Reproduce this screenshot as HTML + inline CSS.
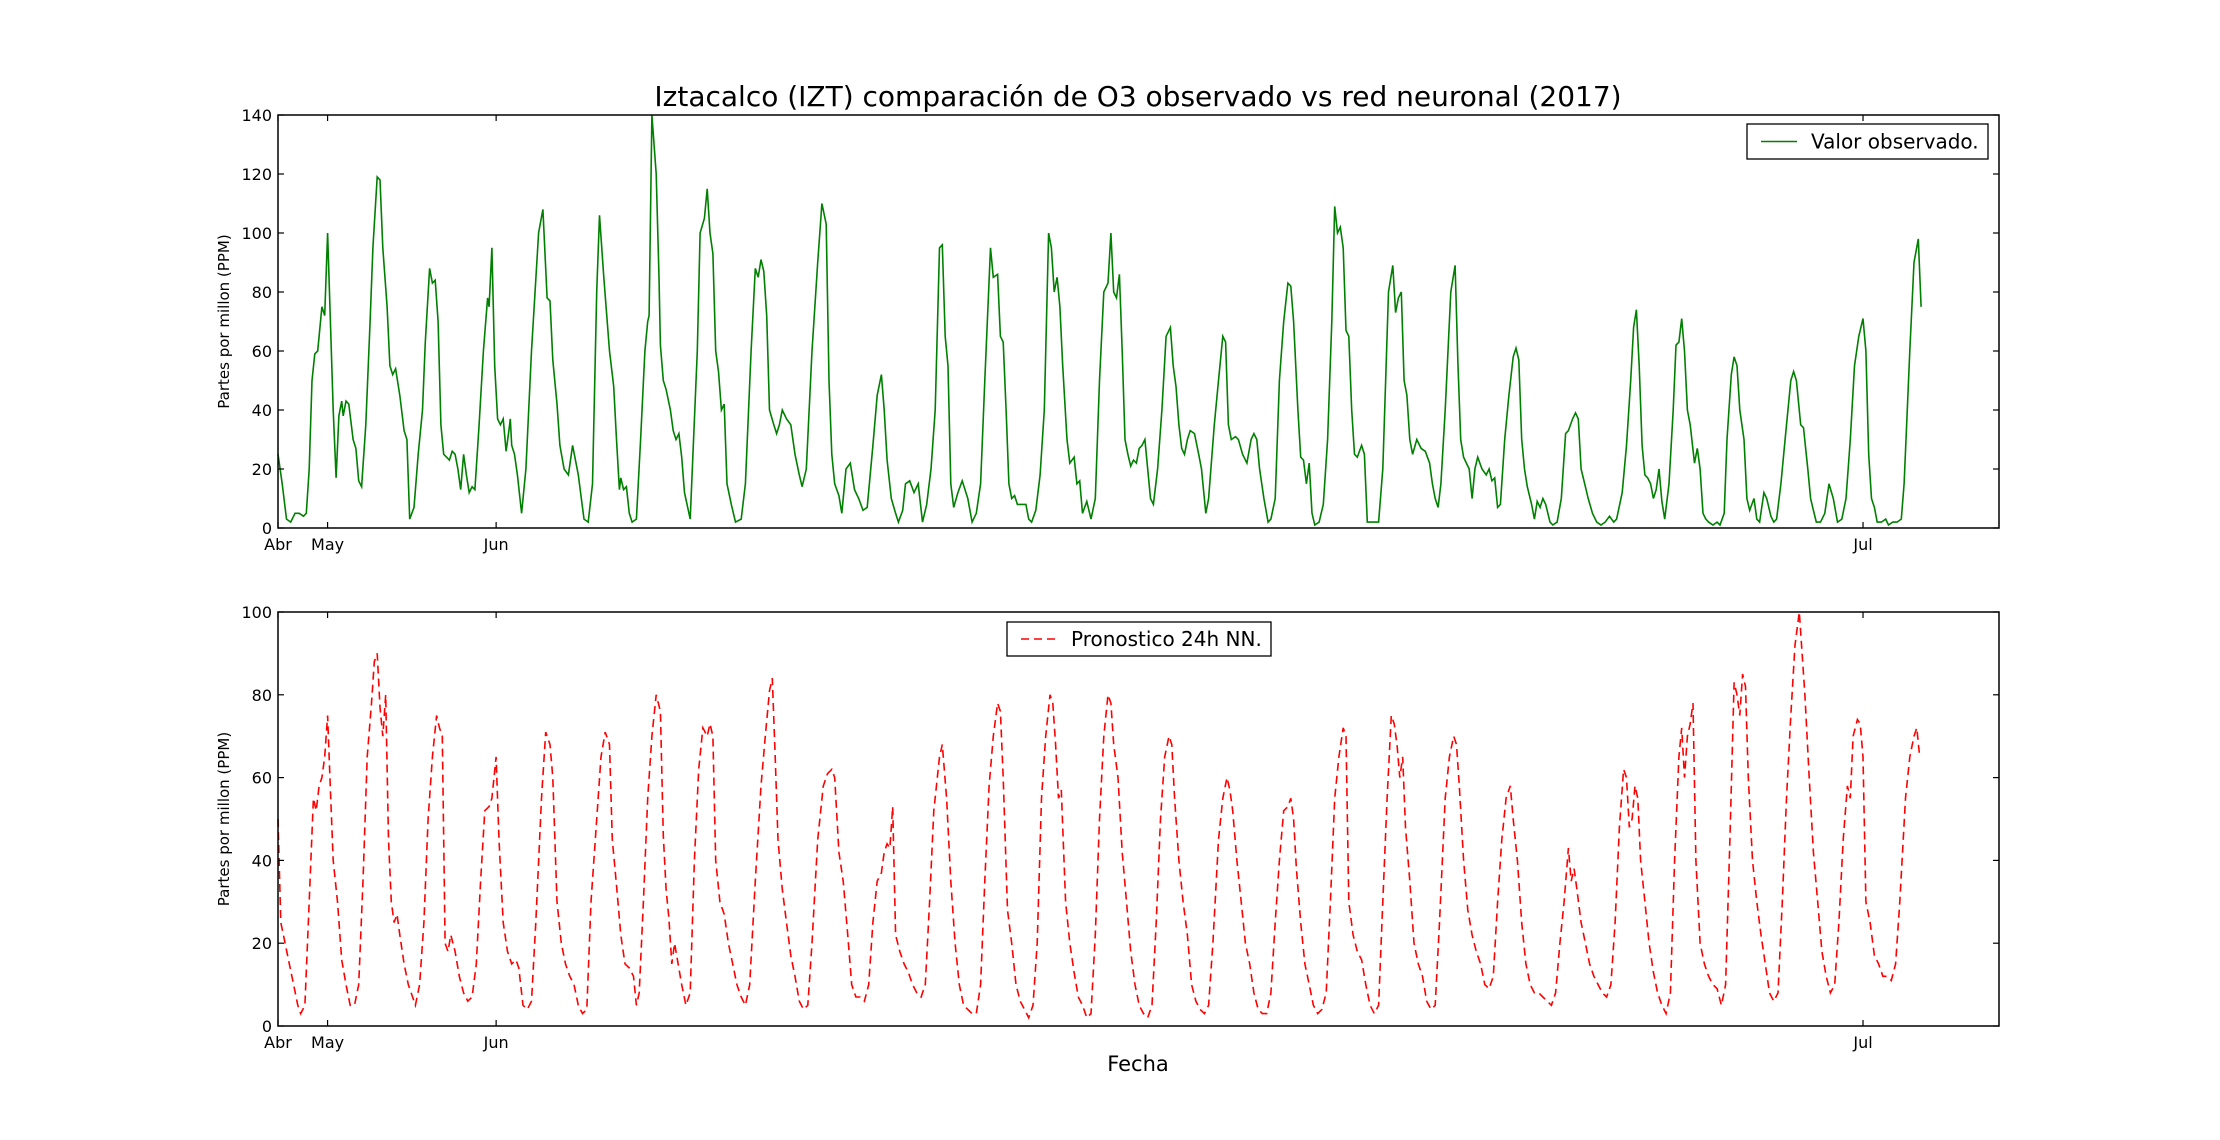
<!DOCTYPE html>
<html><head><meta charset="utf-8"><style>
body{margin:0;background:#fff;}
svg{display:block;font-family:"DejaVu Sans","Liberation Sans",sans-serif;}
</style></head><body>
<svg id="chart" width="2220" height="1140" viewBox="0 0 2220 1140" xmlns="http://www.w3.org/2000/svg">
<rect width="2220" height="1140" fill="#fff"/>
<text x="1138" y="106" font-size="28" text-anchor="middle">Iztacalco (IZT) comparación de O3 observado vs red neuronal (2017)</text>
<text x="1138" y="1071" font-size="21" text-anchor="middle">Fecha</text>
<g id="g1"></g>
<g id="g2"></g>
</svg>
<script>
// x positions are sample indices (domain 196..1411)
const obsT=[196,199,202,205,208,211,214,216,218,220,222,224,227,229,231,233,235,237,239,241,242,244,246,249,251,253,255,258,261,263,266,268,270,273,275,277,279,282,285,287,289,292,295,298,300,303,305,307,309,311,313,315,317,319,321,323,325,327,329,331,333,335,338,341,344,345,347,349,351,353,355,357,359,360,361,363,365,368,371,375,380,383,386,388,390,393,395,398,401,404,408,412,415,418,421,423,426,430,433,435,437,438,440,442,444,446,449,452,455,457,458,460,463,465,466,468,470,473,475,477,479,481,483,487,492,494,497,499,501,503,505,507,509,511,513,516,519,523,526,530,533,535,537,539,541,543,546,548,550,552,555,558,561,564,566,569,573,577,580,583,585,587,589,592,594,597,600,603,606,609,612,616,619,622,624,626,629,632,634,637,639,642,645,648,651,654,657,660,663,665,667,669,671,673,676,679,683,686,689,692,695,699,701,704,706,708,710,712,714,716,718,721,724,726,728,731,734,737,740,742,744,746,748,750,753,755,758,760,762,764,767,770,773,776,779,782,784,786,788,790,792,794,796,798,800,802,804,806,808,810,812,814,817,820,823,826,828,830,832,834,836,838,840,843,846,848,851,853,857,860,863,865,867,869,872,874,877,880,883,885,887,889,892,895,897,900,903,906,909,911,913,916,918,920,922,924,926,928,931,934,937,940,942,944,946,948,950,952,954,956,958,961,963,965,967,970,973,976,980,983,985,987,989,991,993,995,997,1000,1003,1006,1009,1011,1013,1015,1017,1020,1024,1027,1029,1031,1033,1035,1037,1039,1041,1043,1046,1049,1051,1053,1055,1057,1059,1062,1065,1068,1070,1072,1074,1076,1078,1081,1083,1085,1087,1089,1091,1094,1096,1099,1102,1105,1107,1110,1112,1114,1116,1119,1121,1124,1127,1130,1133,1136,1139,1141,1145,1148,1151,1153,1155,1157,1159,1161,1163,1165,1167,1169,1171,1173,1175,1178,1181,1183,1185,1187,1189,1191,1193,1196,1198,1200,1202,1204,1206,1209,1212,1214,1217,1219,1222,1224,1226,1228,1231,1233,1235,1238,1240,1242,1245,1247,1250,1252,1254,1257,1260,1264,1266,1268,1271,1273,1276,1278,1280,1282,1285,1288,1291,1294,1297,1300,1303,1306,1309,1312,1315,1317,1319,1321,1323,1325,1328,1331,1333,1336,1339,1342,1344,1348,1351,1354,1356];
const obsV=[25,15,3,2,5,5,4,5,20,50,59,60,75,72,100,70,40,17,38,43,38,43,42,30,27,16,14,35,70,95,119,118,95,75,55,52,54,45,33,30,3,7,25,40,63,88,83,84,70,35,25,24,23,26,25,20,13,25,18,12,14,13,35,60,78,75,95,55,37,35,37,26,33,37,28,25,18,5,20,60,100,108,78,77,57,42,28,20,18,28,18,3,2,15,80,106,85,60,48,30,13,17,13,14,5,2,3,30,60,70,72,140,120,85,62,50,47,40,33,30,32,24,12,3,60,100,105,115,100,93,60,53,40,42,15,8,2,3,15,60,88,85,91,87,72,40,35,32,35,40,37,35,25,18,14,20,60,90,110,103,50,25,15,11,5,20,22,13,10,6,7,28,45,52,40,23,10,5,2,6,15,16,12,15,2,8,20,40,95,96,65,55,15,7,12,16,10,2,5,15,50,95,85,86,65,63,40,15,10,11,8,8,8,3,2,6,18,40,100,95,80,85,75,55,30,22,24,15,16,5,9,3,10,50,80,83,100,80,78,86,60,30,25,21,23,22,27,28,30,20,10,8,20,40,65,68,55,48,35,27,25,30,33,32,25,20,5,10,35,50,65,63,35,30,31,30,25,22,30,32,30,20,10,2,3,10,50,70,83,82,70,40,24,23,15,22,5,1,2,8,30,70,109,100,102,95,67,65,40,25,24,28,25,2,2,2,2,20,80,89,73,78,80,50,45,30,25,30,27,26,22,15,10,7,15,40,80,89,56,30,24,22,20,10,20,24,20,18,20,16,17,7,8,30,45,58,61,57,30,20,14,8,3,9,7,10,8,2,1,2,10,32,33,37,39,37,20,14,10,5,2,1,2,4,2,3,12,28,50,68,74,55,28,18,17,15,10,13,20,9,3,15,40,62,63,71,60,40,35,22,27,20,5,3,2,1,2,1,5,30,52,58,55,40,30,10,6,10,3,2,12,10,4,2,3,15,30,50,53,50,35,34,20,10,6,2,2,5,15,10,2,3,10,30,55,65,71,60,25,10,7,2,2,3,1,2,2,3,15,60,90,98,75];
const fcT=[196,198,201,204,207,210,212,215,218,221,223,225,227,229,231,233,235,238,241,244,247,250,253,256,259,262,264,266,268,270,272,274,276,278,280,282,285,288,291,293,296,299,302,305,308,310,312,314,316,318,321,324,327,330,333,336,339,342,345,347,350,352,355,358,361,364,366,369,372,375,378,382,385,388,390,393,396,399,402,405,408,411,414,417,420,424,427,430,432,435,438,441,444,447,449,451,454,457,460,463,466,468,470,472,474,476,478,481,484,487,490,493,496,499,501,503,505,508,511,514,517,520,523,526,529,533,537,540,543,545,547,549,552,555,558,561,564,567,570,573,577,581,584,587,589,592,595,598,601,604,607,610,613,616,619,622,624,626,628,630,632,635,638,641,644,647,650,653,656,659,663,665,668,671,674,677,680,683,686,689,692,695,698,701,704,706,708,711,714,717,720,723,726,729,732,735,738,741,743,745,747,749,752,755,758,761,764,767,770,773,776,779,782,784,786,789,792,795,798,801,804,807,810,813,816,819,822,825,827,829,832,835,838,841,844,847,850,853,856,860,863,866,868,870,873,876,879,882,885,888,891,894,897,900,903,906,909,911,913,915,918,921,924,927,930,933,936,939,942,945,948,950,952,955,958,961,964,967,970,973,976,979,982,984,986,988,990,992,995,998,1001,1004,1007,1010,1013,1016,1020,1023,1026,1028,1030,1033,1036,1039,1042,1045,1048,1051,1054,1057,1060,1063,1066,1068,1071,1074,1077,1080,1083,1086,1089,1092,1095,1098,1101,1104,1107,1109,1111,1113,1116,1119,1122,1125,1128,1131,1134,1137,1140,1143,1146,1148,1150,1152,1154,1156,1158,1161,1164,1167,1170,1173,1176,1179,1182,1185,1187,1189,1191,1193,1195,1197,1200,1203,1206,1209,1212,1215,1218,1221,1224,1226,1228,1230,1232,1234,1237,1240,1243,1246,1249,1252,1255,1258,1261,1264,1267,1270,1272,1274,1277,1280,1283,1286,1289,1292,1295,1298,1301,1304,1306,1308,1311,1313,1315,1317,1320,1323,1326,1329,1332,1335,1338,1341,1345,1348,1351,1353,1355];
const fcV=[50,25,20,15,10,5,3,5,30,55,52,58,60,65,75,57,40,30,16,10,5,5,10,35,65,78,88,90,77,70,80,45,30,25,27,22,15,10,7,5,10,25,50,65,75,72,70,20,18,22,18,12,8,6,7,15,35,52,53,55,65,45,25,18,15,16,14,5,4,6,25,55,71,68,60,30,20,15,12,10,5,3,4,30,45,65,71,68,45,34,22,15,14,12,5,8,30,55,70,80,76,46,33,26,15,20,16,10,5,8,40,62,72,70,73,70,40,30,27,20,15,10,7,5,10,35,58,70,81,84,65,45,33,25,17,12,6,4,5,20,45,58,61,62,60,42,35,23,10,7,7,6,10,25,35,37,42,44,43,53,22,18,15,13,10,8,7,10,30,52,65,68,55,35,20,10,5,4,3,3,10,35,58,70,78,76,60,28,20,10,6,4,2,5,20,55,70,80,78,68,55,57,30,20,13,7,5,2,3,22,50,70,80,78,68,60,42,30,18,10,5,3,2,5,25,50,65,70,68,55,40,30,22,10,6,4,3,5,20,45,55,60,57,52,40,30,20,15,8,4,3,3,8,25,40,52,53,55,50,38,25,15,10,5,3,4,8,30,55,65,72,70,30,22,18,16,10,5,3,5,30,55,75,73,68,60,65,48,35,20,15,12,6,4,5,25,55,65,70,68,58,40,28,22,18,15,10,9,12,30,45,55,58,50,40,25,15,10,8,8,7,6,5,8,20,30,43,35,38,33,25,20,15,12,10,8,7,10,25,48,62,60,48,50,58,55,40,30,20,13,8,5,3,8,40,65,72,60,70,73,78,40,20,15,12,10,9,5,10,45,83,80,75,85,82,60,40,30,22,15,8,6,8,30,55,75,92,100,90,80,60,42,30,18,12,8,10,25,45,58,55,70,74,73,65,30,25,17,15,12,12,11,15,30,55,65,70,72,65];
const xTickVals=[196,231,350,1315];
const xTickLabels=["Abr","May","Jun","Jul"];
const yTicks1=[0,20,40,60,80,100,120,140];
const yTicks2=[0,20,40,60,80,100];

const NS="http://www.w3.org/2000/svg";
const X0=278,X1=1999,D0=196,D1=1411;
const xs=v=>X0+(v-D0)/(D1-D0)*(X1-X0);
function mk(tag,attrs,parent){const e=document.createElementNS(NS,tag);for(const k in attrs)e.setAttribute(k,attrs[k]);parent.appendChild(e);return e;}
function panel(g,top,bot,ymax,yt,T,V,color,dash,legend){
  const ys=v=>bot-(v/ymax)*(bot-top);
  let d="";T.forEach((t,i)=>{d+=(i?"L":"M")+xs(t).toFixed(1)+","+ys(V[i]).toFixed(1);});
  const p=mk("path",{d:d,fill:"none",stroke:color,"stroke-width":"1.6"},g);
  if(dash)p.setAttribute("stroke-dasharray","8,5");
  
  
  const fr=mk("rect",{x:X0,y:top,width:X1-X0,height:bot-top,fill:"none",stroke:"#000","stroke-width":"1.5"},g);
  
  
  yt.forEach(v=>{const y=ys(v);
    mk("line",{x1:X0,x2:X0+6,y1:y,y2:y,stroke:"#000","stroke-width":"1.2"},g);
    mk("line",{x1:X1,x2:X1-6,y1:y,y2:y,stroke:"#000","stroke-width":"1.2"},g);
    const t=mk("text",{x:X0-6,y:y+6,"font-size":"16","text-anchor":"end"},g);t.textContent=v;
    
    
  });
  xTickVals.forEach((v,i)=>{const x=xs(v);
    mk("line",{x1:x,x2:x,y1:bot,y2:bot-6,stroke:"#000","stroke-width":"1.2"},g);
    mk("line",{x1:x,x2:x,y1:top,y2:top+6,stroke:"#000","stroke-width":"1.2"},g);
    const t=mk("text",{x:x,y:bot+22,"font-size":"16","text-anchor":"middle"},g);t.textContent=xTickLabels[i];
    
    
  });
  const yl=mk("text",{x:0,y:0,"font-size":"15","text-anchor":"middle",transform:`translate(229,${(top+bot)/2}) rotate(-90)`},g);
  yl.textContent="Partes por millon (PPM)";
  
  
  const lg=mk("g",{},g);
  
  
  mk("rect",{x:legend.x,y:legend.y,width:legend.w,height:legend.h,fill:"#fff",stroke:"#000","stroke-width":"1.3"},lg);
  const ly=legend.y+legend.h/2;
  const ll=mk("line",{x1:legend.x+14,x2:legend.x+50,y1:ly,y2:ly,stroke:color,"stroke-width":"1.6"},lg);
  if(dash)ll.setAttribute("stroke-dasharray","8,5");
  const lt=mk("text",{x:legend.x+64,y:ly+7,"font-size":"20"},lg);lt.textContent=legend.label;
  
  
}
panel(document.getElementById("g1"),115,528,140,yTicks1,obsT,obsV,"#008000",false,{name:"observed",x:1747,y:124,w:241,h:35,label:"Valor observado."});
panel(document.getElementById("g2"),612,1026,100,yTicks2,fcT,fcV,"#ff0000",true,{name:"forecast",x:1007,y:622,w:264,h:34,label:"Pronostico 24h NN."});
</script>
</body></html>
